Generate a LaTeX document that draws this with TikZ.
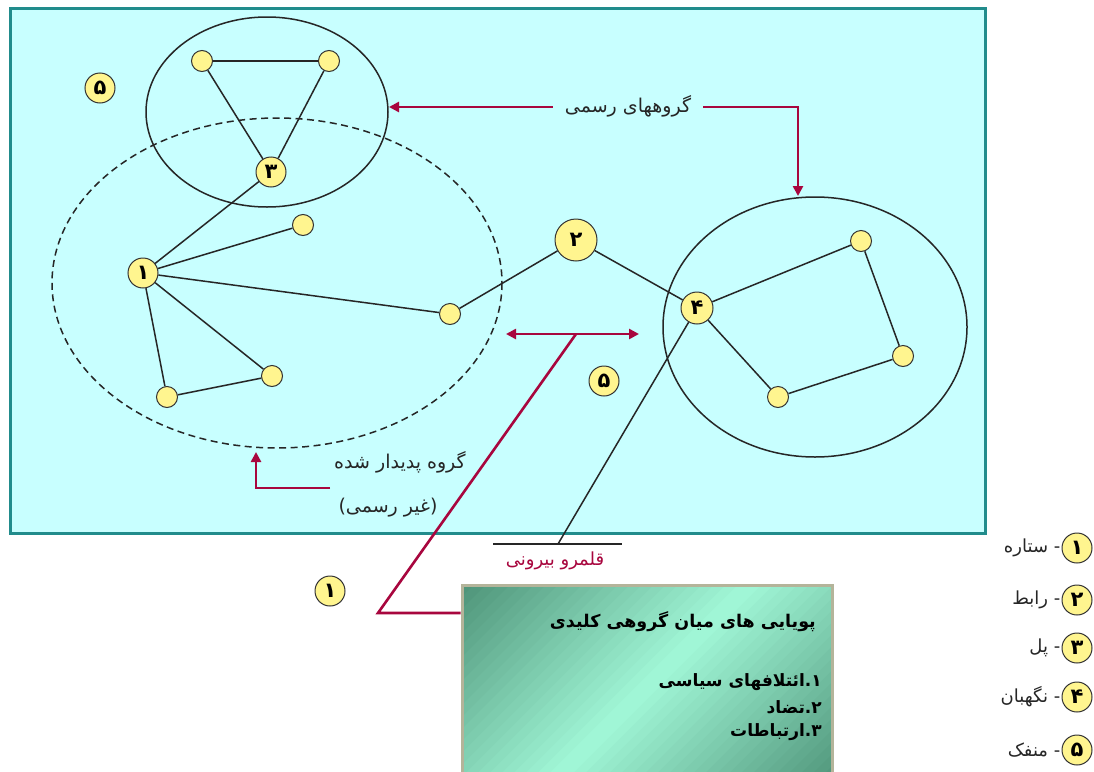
\documentclass[tikz,border=0pt]{standalone}
\usepackage{fontspec}
\usetikzlibrary{arrows.meta}
\newfontfamily\fa[Script=Arabic]{DejaVu Sans}
\TeXXeTstate=1
\definecolor{bgcyan}{HTML}{C8FFFF}
\definecolor{frameteal}{HTML}{218C8C}
\definecolor{nodeyellow}{HTML}{FFF58F}
\definecolor{crimson}{HTML}{A8063E}
\definecolor{boxframe}{HTML}{B4B49A}
\definecolor{boxdark}{HTML}{4E9378}
\definecolor{boxlight}{HTML}{A2F8D8}
\tikzset{
  dot/.style={circle, draw=black!80, fill=nodeyellow, line width=1pt, minimum size=21pt, inner sep=0pt},
  numdot/.style={dot, minimum size=30pt, font=\fa\bfseries\fontsize{21}{21}\selectfont},
  link/.style={draw=black!85, line width=1.5pt},
  ring/.style={draw=black!85, line width=1.5pt},
  redline/.style={draw=crimson, line width=2.6pt},
  redarrow/.style={redline, -{Triangle[length=10pt,width=10pt]}},
  lbl/.style={font=\fa\fontsize{19}{21}\selectfont, text=black!85, inner sep=0pt},
  boxtext/.style={font=\fa\bfseries\fontsize{17}{19}\selectfont, text=black, inner sep=0pt, anchor=east},
  legtext/.style={font=\fa\fontsize{18}{20}\selectfont, text=black!85, inner sep=1pt, anchor=east}
}
\begin{document}
\begin{tikzpicture}[x=1pt,y=-1pt]
\useasboundingbox (0,0) rectangle (1094,771);
\fill[white] (0,0) rectangle (1094,771);
% main frame
\draw[frameteal, line width=3pt, fill=bgcyan] (10,8) rectangle (985,533);
% group outlines
\draw[ring] (267,112) ellipse [x radius=121, y radius=95];
\draw[ring, dash pattern=on 7pt off 4.5pt] (277,283) ellipse [x radius=225, y radius=165];
\draw[ring] (815,327) ellipse [x radius=152, y radius=130];
% nodes
\node[numdot] (n5a) at (100,88) {۵};
\node[dot] (t1) at (202,61) {};
\node[dot] (t2) at (329,61) {};
\node[numdot] (n3) at (271,172) {۳};
\node[numdot] (n1) at (143,273) {۱};
\node[dot] (a) at (303,225) {};
\node[dot] (b) at (450,314) {};
\node[dot] (c) at (272,376) {};
\node[dot] (d) at (167,397) {};
\node[numdot, minimum size=42pt] (n2) at (576,240) {۲};
\node[numdot, minimum size=32pt] (n4) at (697,308) {۴};
\node[dot] (e) at (861,241) {};
\node[dot] (f) at (903,356) {};
\node[dot] (g) at (778,397) {};
\node[numdot] (n5b) at (604,381) {۵};
\node[numdot] (n1b) at (330,591) {۱};
% links
\draw[link] (t1) -- (t2);
\draw[link] (t1) -- (n3);
\draw[link] (t2) -- (n3);
\draw[link] (n1) -- (n3);
\draw[link] (n1) -- (a);
\draw[link] (n1) -- (b);
\draw[link] (n1) -- (c);
\draw[link] (n1) -- (d);
\draw[link] (d) -- (c);
\draw[link] (b) -- (n2);
\draw[link] (n2) -- (n4);
\draw[link] (n4) -- (e);
\draw[link] (e) -- (f);
\draw[link] (f) -- (g);
\draw[link] (g) -- (n4);
\coordinate (ext) at (558,544);
\draw[link] (n4) -- (ext);
\coordinate (hl) at (493,544);
\coordinate (hr) at (622,544);
\draw[draw=black!85, line width=1.6pt] (hl) -- (hr);
\node[font=\fa\fontsize{18}{20}\selectfont, text=crimson, inner sep=0pt] (outer) at (555,561) {\beginR قلمرو بیرونی\endR};
% formal groups label
\node[lbl, inner xsep=12pt] (flabel) at (628,106) {\beginR گروههای رسمی\endR};
\coordinate (ftipL) at (389,107);
\coordinate (fcorner) at (798,107);
\coordinate (ftipR) at (798,196);
\draw[redarrow] (flabel.west |- ftipL) -- (ftipL);
\draw[redarrow] (flabel.east |- fcorner) -- (fcorner) -- (ftipR);
% informal group label
\node[lbl] (ilabel) at (400,462) {\beginR گروه پدیدار شده\endR};
\node[lbl] (ilabel2) at (388,508) {)\beginR غیر رسمی\endR(};
\coordinate (ia) at (330,488);
\coordinate (ib) at (256,488);
\coordinate (ic) at (256,452);
\draw[redarrow] (ia) -- (ib) -- (ic);
% key box with diagonal gradient
\coordinate (kbnw) at (462,585);
\coordinate (kbse) at (832,790);
\begin{scope}
  \clip (kbnw) rectangle (kbse);
  \foreach \i in {0,...,47} {
    \pgfmathsetmacro{\pc}{100*(1-abs(2*(\i+0.5)/48-1))}
    \pgfmathsetmacro{\ca}{1047+11.98*\i}
    \pgfmathsetmacro{\cb}{1047+11.98*(\i+1)+1}
    \fill[boxlight!\pc!boxdark] (\ca-575,575) -- (\cb-575,575) -- (\cb-800,800) -- (\ca-800,800) -- cycle;
  }
\end{scope}
\node[draw=boxframe, line width=3pt, minimum width=370pt, minimum height=205pt, inner sep=0pt] (kbox) at (647,687.5) {};
\node[boxtext, font=\fa\bfseries\fontsize{17.5}{19}\selectfont] (k0) at (816,622) {\beginR پویایی های میان گروهی کلیدی\endR};
\node[boxtext] (k1) at (822,682) {{\beginR ائتلافهای سیاسی\endR}۱.};
\node[boxtext] (k2) at (822,707) {{\beginR تضاد\endR}۲.};
\node[boxtext] (k3) at (822,732) {{\beginR ارتباطات\endR}۳.};
% red connectors
\coordinate (dl) at (506,334);
\coordinate (dr) at (639,334);
\draw[redline, {Triangle[length=10pt,width=10pt]}-{Triangle[length=10pt,width=10pt]}] (dl) -- (dr);
\coordinate (rj) at (576,334);
\coordinate (rc) at (378,613);
\draw[redline] (rj) -- (rc) -- (rc -| kbox.west);
% legend
\node[numdot] (L1) at (1077,548) {۱};
\node[numdot] (L2) at (1077,600) {۲};
\node[numdot] (L3) at (1077,648) {۳};
\node[numdot] (L4) at (1077,697) {۴};
\node[numdot] (L5) at (1077,750) {۵};
\node[legtext] (T1) at (L1.west) {{\beginR ستاره\endR} -};
\node[legtext] (T2) at (L2.west) {{\beginR رابط\endR} -};
\node[legtext] (T3) at (L3.west) {{\beginR پل\endR} -};
\node[legtext] (T4) at (L4.west) {{\beginR نگهبان\endR} -};
\node[legtext] (T5) at (L5.west) {{\beginR منفک\endR} -};
\end{tikzpicture}
\end{document}
